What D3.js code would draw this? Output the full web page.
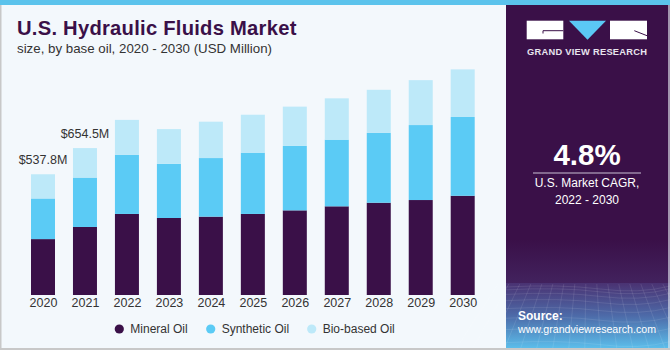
<!DOCTYPE html>
<html><head><meta charset="utf-8">
<script src="https://cdn.jsdelivr.net/npm/d3@7"></script>
<style>body{margin:0;padding:0;background:#fff}svg{display:block}text{font-family:"Liberation Sans",Arial,sans-serif}</style>
</head><body><svg id="c" width="670" height="350"></svg>
<script>
const years = ["2020","2021","2022","2023","2024","2025","2026","2027","2028","2029","2030"];
const mineral = [249, 303, 361, 343, 349, 361, 377, 395, 411, 423, 442];
const synthetic = [181, 220, 263, 241, 261, 273, 287, 297, 311, 334, 351];
const bio = [107.8, 131.5, 156, 155, 162, 169, 175, 184, 192, 200, 212];
const seriesNames = ["Mineral Oil", "Synthetic Oil", "Bio-based Oil"];
const colors = ["#3a1048", "#5bcbf5", "#bde9f9"];
const annotations = [{year: "2020", label: "$537.8M"}, {year: "2021", label: "$654.5M"}];

const svg = d3.select("#c");
// background
svg.append("rect").attr("x",0).attr("y",0).attr("width",670).attr("height",350).attr("fill","#f3f8fc");
svg.append("rect").attr("x",0).attr("y",0).attr("width",670).attr("height",5).attr("fill","#5bc3ec");
svg.append("rect").attr("x",0).attr("y",5).attr("width",1.5).attr("height",345).attr("fill","#c8c8c8");
svg.append("rect").attr("x",0).attr("y",348).attr("width",670).attr("height",2).attr("fill","#c8c8c8");

// title
svg.append("text").attr("x",17).attr("y",35).attr("fill","#3a1048").attr("font-size",20.2).attr("font-weight",900)
  .style("letter-spacing","0.25px").text("U.S. Hydraulic Fluids Market");
svg.append("text").attr("x",17).attr("y",53).attr("fill","#333").attr("font-size",13.3).text("size, by base oil, 2020 - 2030 (USD Million)");

// data stack
const table = years.map((y,i)=>({year:y, m:mineral[i], s:synthetic[i], b:bio[i]}));
const stack = d3.stack().keys(["m","s","b"])(table);
const x = d3.scalePoint().domain(years).range([43, 462.7]);
const y = d3.scaleLinear().domain([0, 1000]).range([295, 295 - 224.5]);
const bw = 24;

const g = svg.append("g");
stack.forEach((layer, li) => {
  g.selectAll(null).data(layer).enter().append("rect")
    .attr("x", d => x(d.data.year) - bw/2)
    .attr("y", d => y(d[1]))
    .attr("width", bw)
    .attr("height", d => y(d[0]) - y(d[1]))
    .attr("fill", colors[li]);
});

// annotations
annotations.forEach(a => {
  const i = years.indexOf(a.year);
  const total = mineral[i] + synthetic[i] + bio[i];
  svg.append("text").attr("x", x(a.year)).attr("y", y(total) - 10).attr("text-anchor","middle")
    .attr("font-size",12.5).attr("fill","#333").text(a.label);
});

// axis
const ax = svg.append("g").attr("transform","translate(0,295)").call(d3.axisBottom(x).tickSize(0).tickPadding(3));
ax.select(".domain").remove();
ax.selectAll("text").attr("font-size",12.5).attr("fill","#333").style("font-family",'"Liberation Sans",Arial,sans-serif');

// legend
const legX = [119.3, 210.7, 311.7];
seriesNames.forEach((n,i)=>{
  svg.append("circle").attr("cx",legX[i]).attr("cy",329).attr("r",4.6).attr("fill",colors[i]);
  svg.append("text").attr("x",legX[i]+11).attr("y",333).attr("font-size",12).attr("fill","#333").text(n);
});

// right panel
const defs = svg.append("defs");
const gr = defs.append("linearGradient").attr("id","pg").attr("x1",0).attr("y1",0).attr("x2",0).attr("y2",1);
gr.append("stop").attr("offset","0%").attr("stop-color","#4a3272");
gr.append("stop").attr("offset","50%").attr("stop-color","#4d6aa8");
gr.append("stop").attr("offset","100%").attr("stop-color","#5bbdea");
svg.append("rect").attr("x",506).attr("y",5).attr("width",164).attr("height",343).attr("fill","#3a1048");
const gr2 = defs.append("linearGradient").attr("id","pt").attr("x1",0).attr("y1",0).attr("x2",0).attr("y2",1);
gr2.append("stop").attr("offset","0%").attr("stop-color","#3a1048");
gr2.append("stop").attr("offset","100%").attr("stop-color","#42225e");
svg.append("rect").attr("x",506).attr("y",240).attr("width",164).attr("height",43).attr("fill","url(#pt)");
svg.append("rect").attr("x",506).attr("y",283).attr("width",164).attr("height",65).attr("fill","url(#pg)");
// mesh texture
const mesh = svg.append("g").attr("stroke","#ffffff").attr("stroke-opacity",0.16).attr("stroke-width",0.6).attr("fill","none");
for (let k=0;k<9;k++){
  const yy = 287 + k*k*0.85 + k*2;
  mesh.append("path").attr("d",`M506,${yy} Q560,${yy-3} 600,${yy+2} T670,${yy-1}`);
}
for (let k=0;k<18;k++){
  const xx = 506 + k*10;
  mesh.append("path").attr("d",`M${xx+ (xx-588)*0.1},284 L${xx + (xx-588)*0.6},348`);
}
svg.append("rect").attr("x",668).attr("y",5).attr("width",2).attr("height",343).attr("fill","#e8eef3").attr("opacity",0.6);

// logo
const lg = svg.append("g");
lg.append("rect").attr("x",526.7).attr("y",20.7).attr("width",36.6).attr("height",18.6).attr("fill","#fff");
lg.append("path").attr("d","M543,33.5 L543,30.7 L563.3,30.7").attr("stroke","#3a1048").attr("stroke-width",1).attr("fill","none");
lg.append("path").attr("d","M569,20.7 L606,20.7 L587.5,39.7 Z").attr("fill","#5bc8f5");
lg.append("rect").attr("x",610).attr("y",20.7).attr("width",37).attr("height",18.6).attr("fill","#fff");
lg.append("path").attr("d","M634.3,30.7 L647,35.7").attr("stroke","#3a1048").attr("stroke-width",1).attr("fill","none");
svg.append("text").attr("x",527).attr("y",55).attr("font-size",9.3).attr("font-weight",700)
  .attr("fill","#e8e4ee").attr("textLength",120).attr("lengthAdjust","spacing").text("GRAND VIEW RESEARCH");

// CAGR
svg.append("text").attr("x",587).attr("y",165).attr("text-anchor","middle").attr("font-size",29.5).attr("font-weight",700).attr("fill","#fff").text("4.8%");
svg.append("line").attr("x1",533).attr("x2",641).attr("y1",173).attr("y2",173).attr("stroke","#c9bfd3").attr("stroke-width",1.2);
svg.append("text").attr("x",587).attr("y",187).attr("text-anchor","middle").attr("font-size",12).attr("fill","#fff").text("U.S. Market CAGR,");
svg.append("text").attr("x",587).attr("y",204).attr("text-anchor","middle").attr("font-size",12).attr("fill","#fff").text("2022 - 2030");

// source
svg.append("text").attr("x",518).attr("y",320).attr("font-size",12).attr("font-weight",700).attr("fill","#fff").text("Source:");
svg.append("text").attr("x",518).attr("y",332.5).attr("font-size",11.5).attr("fill","#fff")
  .attr("textLength",138).attr("lengthAdjust","spacingAndGlyphs").text("www.grandviewresearch.com");
</script></body></html>
